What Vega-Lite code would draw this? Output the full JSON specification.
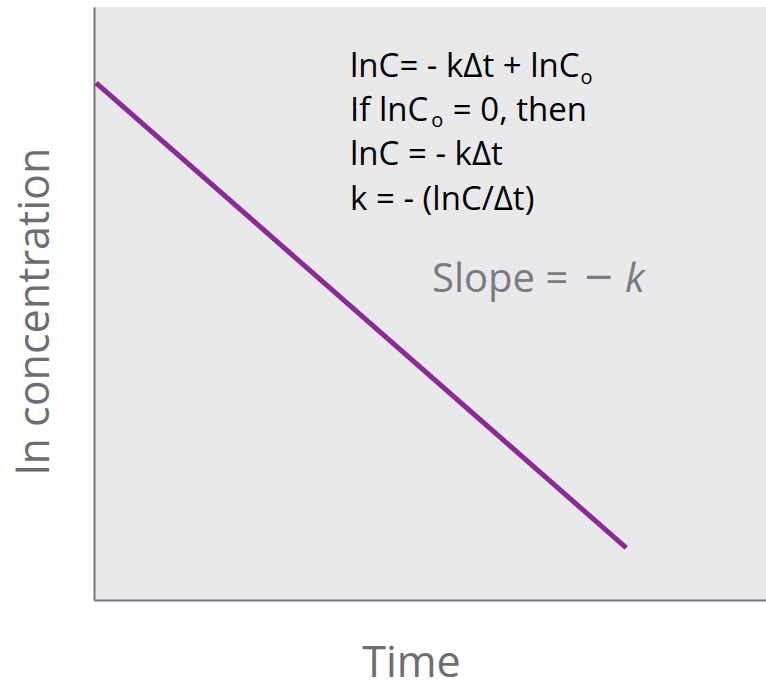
{
  "$schema": "https://vega.github.io/schema/vega-lite/v6.json",
  "autosize": "none",
  "width": 672,
  "height": 593,
  "padding": {"left": 94, "top": 7, "right": 0, "bottom": 92},
  "background": "white",
  "config": {
    "view": {"fill": "#e9e9ec", "stroke": null},
    "axis": {"domainColor": "#77777a", "domainWidth": 2, "ticks": false, "labels": false, "grid": false,
      "titleFont": "Open Sans", "titleFontWeight": "normal", "titleColor": "#6d6e71", "titleFontSize": 43}
  },
  "datasets": {
    "line": [
      {"time": 0.03, "lnc": 8.72},
      {"time": 7.92, "lnc": 0.88}
    ],
    "notes": [
      {"x": 3.81, "y": 8.82, "label": "lnC= - kΔt + lnC"},
      {"x": 3.81, "y": 8.08, "label": "If lnC"},
      {"x": 5.34, "y": 8.08, "label": "= 0, then"},
      {"x": 3.81, "y": 7.34, "label": "lnC = - kΔt"},
      {"x": 3.81, "y": 6.58, "label": "k = - (lnC/Δt)"}
    ],
    "subs": [
      {"x": 7.24, "y": 8.70, "label": "o"},
      {"x": 5.02, "y": 7.98, "label": "o"}
    ],
    "slope": [
      {"x": 5.03, "y": 5.19, "label": "Slope ="}
    ],
    "minus": [
      {"x": 7.30, "y": 5.19, "label": "−"}
    ],
    "k": [
      {"x": 7.90, "y": 5.19, "label": "k"}
    ]
  },
  "layer": [
    {
      "data": {"name": "line"},
      "mark": {"type": "line", "color": "#8a2a94", "strokeWidth": 5, "strokeCap": "butt"},
      "encoding": {
        "x": {"field": "time", "type": "quantitative", "scale": {"domain": [0, 10], "nice": false},
          "axis": {"title": "Time", "titlePadding": 42, "titleX": 317, "titleAnchor": "middle"}},
        "y": {"field": "lnc", "type": "quantitative", "scale": {"domain": [0, 10], "nice": false},
          "axis": {"title": "ln concentration", "titlePadding": 37, "titleY": 304}}
      }
    },
    {
      "data": {"name": "notes"},
      "mark": {"type": "text", "align": "left", "baseline": "alphabetic", "font": "Open Sans", "fontSize": 33, "color": "#000000"},
      "encoding": {
        "x": {"field": "x", "type": "quantitative"},
        "y": {"field": "y", "type": "quantitative"},
        "text": {"field": "label"}
      }
    },
    {
      "data": {"name": "subs"},
      "mark": {"type": "text", "align": "left", "baseline": "alphabetic", "font": "Open Sans", "fontSize": 20, "color": "#000000"},
      "encoding": {
        "x": {"field": "x", "type": "quantitative"},
        "y": {"field": "y", "type": "quantitative"},
        "text": {"field": "label"}
      }
    },
    {
      "data": {"name": "slope"},
      "mark": {"type": "text", "align": "left", "baseline": "alphabetic", "font": "Open Sans", "fontSize": 40, "color": "#7a7b7e"},
      "encoding": {
        "x": {"field": "x", "type": "quantitative"},
        "y": {"field": "y", "type": "quantitative"},
        "text": {"field": "label"}
      }
    },
    {
      "data": {"name": "minus"},
      "mark": {"type": "text", "align": "left", "baseline": "alphabetic", "font": "Open Sans", "fontSize": 50, "dy": 3, "color": "#7a7b7e"},
      "encoding": {
        "x": {"field": "x", "type": "quantitative"},
        "y": {"field": "y", "type": "quantitative"},
        "text": {"field": "label"}
      }
    },
    {
      "data": {"name": "k"},
      "mark": {"type": "text", "align": "left", "baseline": "alphabetic", "font": "Open Sans", "fontSize": 40, "fontStyle": "italic", "color": "#7a7b7e"},
      "encoding": {
        "x": {"field": "x", "type": "quantitative"},
        "y": {"field": "y", "type": "quantitative"},
        "text": {"field": "label"}
      }
    }
  ]
}
